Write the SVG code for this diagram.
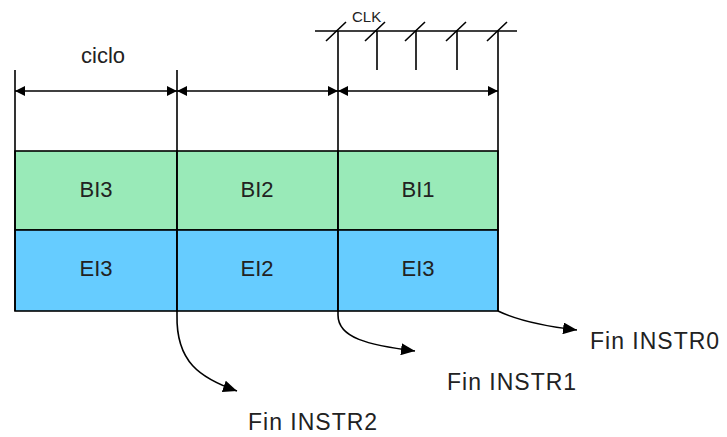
<svg xmlns="http://www.w3.org/2000/svg" width="727" height="437" viewBox="0 0 727 437">
<defs>
<marker id="dim" viewBox="0 0 10 10" refX="10" refY="5" markerWidth="10" markerHeight="10" markerUnits="userSpaceOnUse" orient="auto-start-reverse"><path d="M0,0 L10,5 L0,10 Z" fill="#000"/></marker>
<marker id="arr" viewBox="0 0 14 12" refX="14" refY="6" markerWidth="14" markerHeight="12" markerUnits="userSpaceOnUse" orient="auto"><path d="M0,0 L14,6 L0,12 Z" fill="#000"/></marker>
<style>
.ln{stroke:#000;stroke-width:1.6;fill:none}
.t{font-family:"Liberation Sans",Arial,sans-serif;fill:#222}
.lbl{font-size:22px;text-anchor:middle}
.fin{font-size:23px;letter-spacing:1px}
.green{fill:#99EAB8;stroke:#000;stroke-width:1.6}
.blue{fill:#66CCFF;stroke:#000;stroke-width:1.6}
</style>
</defs>
<rect width="727" height="437" fill="#fff"/>
<g id="row-bi">
<g id="bi3"><rect class="green" x="15" y="151" width="162" height="79"/><text class="t lbl" x="96" y="197">BI3</text></g>
<g id="bi2"><rect class="green" x="177" y="151" width="161" height="79"/><text class="t lbl" x="257" y="197">BI2</text></g>
<g id="bi1"><rect class="green" x="338" y="151" width="160" height="79"/><text class="t lbl" x="418" y="197">BI1</text></g>
</g>
<g id="row-ei">
<g id="ei3a"><rect class="blue" x="15" y="230" width="162" height="81"/><text class="t lbl" x="96" y="276">EI3</text></g>
<g id="ei2"><rect class="blue" x="177" y="230" width="161" height="81"/><text class="t lbl" x="257" y="276">EI2</text></g>
<g id="ei3b"><rect class="blue" x="338" y="230" width="160" height="81"/><text class="t lbl" x="418" y="276">EI3</text></g>
</g>
<g id="clock">
<line class="ln" x1="315" y1="31" x2="517" y2="31"/>
<path class="ln" d="M326,41 L346,22 M365,41 L385,22 M405,41 L425,22 M446,41 L466,22 M487,41 L507,22"/>
<path class="ln" d="M377,31 V70 M416,31 V70 M457,31 V70"/>
<text class="t" x="352" y="22" font-size="15">CLK</text>
</g>
<g id="ciclo"><text class="t" x="81" y="63" font-size="22">ciclo</text></g>
<g id="connectors">
<path class="ln" d="M15,70 V311 M177,70 V315 M338,31 V315 M498,31 V311"/>
<line class="ln" x1="15" y1="91" x2="177" y2="91" marker-start="url(#dim)" marker-end="url(#dim)"/>
<line class="ln" x1="177" y1="91" x2="338" y2="91" marker-start="url(#dim)" marker-end="url(#dim)"/>
<line class="ln" x1="338" y1="91" x2="498" y2="91" marker-start="url(#dim)" marker-end="url(#dim)"/>
<path class="ln" d="M498,311 Q525,324 577,330" marker-end="url(#arr)"/>
<path class="ln" d="M338,315 C338,338 368,345 415,351" marker-end="url(#arr)"/>
<path class="ln" d="M177,315 C176,362 200,378 237,391" marker-end="url(#arr)"/>
</g>
<g id="labels">
<text class="t fin" x="590" y="349">Fin INSTR0</text>
<text class="t fin" x="447" y="390">Fin INSTR1</text>
<text class="t fin" x="248" y="430">Fin INSTR2</text>
</g>
</svg>
